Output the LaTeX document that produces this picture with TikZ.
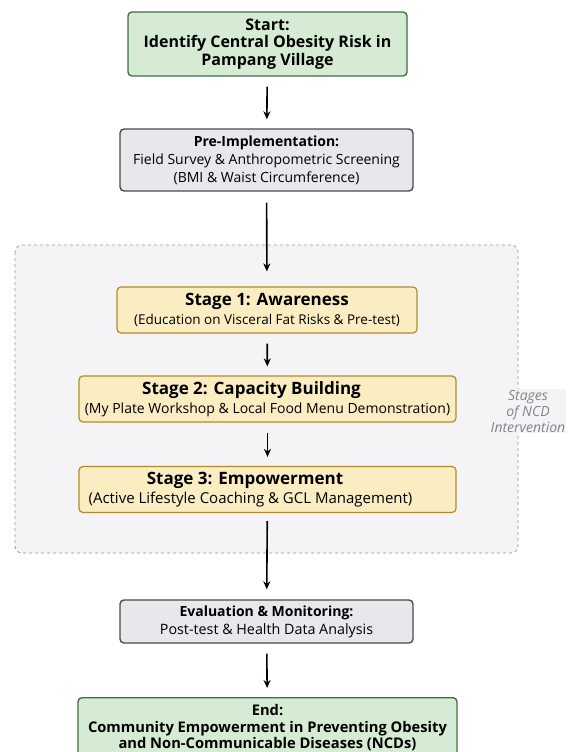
\documentclass[tikz,border=0pt]{standalone}
\usepackage{fontspec}
\setmainfont{Open Sans}
\usetikzlibrary{arrows.meta}

\definecolor{startfill}{HTML}{D6EBD3}
\definecolor{startline}{HTML}{3F6E47}
\definecolor{greyfill}{HTML}{E7E7EC}
\definecolor{greyline}{HTML}{4A4A4F}
\definecolor{stagefill}{HTML}{FBEDC2}
\definecolor{stageline}{HTML}{B38A2E}
\definecolor{groupfill}{HTML}{F4F4F7}
\definecolor{groupline}{HTML}{9A9AA0}

\tikzset{
  box/.style = {draw, line width=1.4pt, rounded corners=4pt, align=center,
                inner sep=0pt, font=\fontsize{14}{18}\selectfont},
  startbox/.style = {box, fill=startfill, draw=startline, font=\bfseries\fontsize{16}{17.3}\selectfont},
  greybox/.style = {box, fill=greyfill, draw=greyline},
  stagebox/.style = {box, fill=stagefill, draw=stageline, line width=1.2pt,
                     minimum height=46pt, font=\fontsize{14}{19}\selectfont},
  flow/.style = {-{Stealth[length=8pt,width=7pt]}, line width=1.6pt, black,
                 shorten <=10pt, shorten >=9pt}
}

\begin{document}
\begin{tikzpicture}[x=1pt, y=-1pt]

\useasboundingbox (0,0) rectangle (577,752);

\draw[groupline, fill=groupfill, dashed, line width=0.8pt, rounded corners=7pt] (15,245) rectangle (518,553);

\node[startbox, minimum width=279pt, minimum height=64pt] (start) at (267.5,44)
  {Start:\\ Identify Central Obesity Risk in\\ Pampang Village};

\node[greybox, minimum width=293pt, minimum height=62pt] (pre) at (266.5,160)
  {\textbf{Pre-Implementation:}\\ Field Survey \& Anthropometric Screening\\ (BMI \& Waist Circumference)};

\node[stagebox, minimum width=300pt] (stageA) at (267,310)
  {{\fontsize{17}{19}\selectfont\textbf{Stage 1: Awareness}}\\ {\fontsize{13.5}{19}\selectfont(Education on Visceral Fat Risks \& Pre-test)}};

\node[stagebox, minimum width=377pt] (stageB) at (267.5,399)
  {{\fontsize{17}{19}\selectfont\textbf{Stage 2: Capacity Building}}\hspace*{32pt}\\ (My Plate Workshop \& Local Food Menu Demonstration)};

\node[stagebox, minimum width=377pt] (stageC) at (267.5,489.5)
  {{\fontsize{17}{19}\selectfont\textbf{Stage 3: Empowerment}}\hspace*{45pt}\\ {\fontsize{15}{19}\selectfont(Active Lifestyle Coaching \& GCL Management)}\hspace*{34pt}};

\node[greybox, minimum width=293pt, minimum height=43pt] (eval) at (266.5,621.5)
  {\textbf{Evaluation \& Monitoring:}\\ {\fontsize{14.3}{18}\selectfont Post-test \& Health Data Analysis}};

\node[startbox, minimum width=379pt, minimum height=60pt, anchor=north,
      font=\bfseries\fontsize{14.7}{16.5}\selectfont] (end) at (267.5,697)
  {End:\\ Community Empowerment in Preventing Obesity\\ and Non-Communicable Diseases (NCDs)};

\node[fill=groupfill, text=groupline!85!black, align=center, inner sep=1pt,
      font=\itshape\fontsize{14}{16}\selectfont] (group) at (528,411)
  {Stages\\ of NCD\\ Intervention};

\draw[flow] (start) -- (pre);
\draw[flow, shorten <=11pt, shorten >=15pt] (pre) -- (stageA);
\draw[flow] (stageA) -- (stageB);
\draw[flow] (stageB) -- (stageC);
\draw[flow, shorten <=8pt, shorten >=10pt] (stageC) -- (eval);
\draw[flow] (eval) -- (end);

\end{tikzpicture}
\end{document}
